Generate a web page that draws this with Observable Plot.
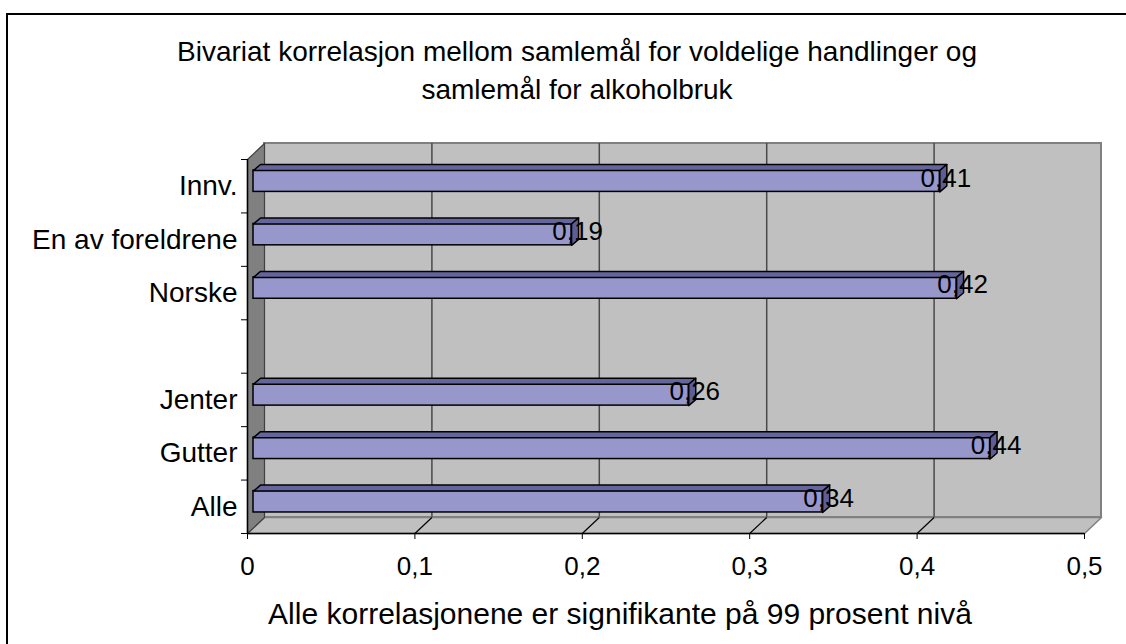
<!DOCTYPE html>
<html><head><meta charset="utf-8">
<script src="https://cdn.jsdelivr.net/npm/d3@7"></script>
<script src="https://cdn.jsdelivr.net/npm/@observablehq/plot@0.6"></script>
<style>
html,body{margin:0;padding:0;background:#fff;}
#wrap{position:relative;width:1126px;height:644px;overflow:hidden;font-family:"Liberation Sans",Arial,sans-serif;color:#000;}
#frame{position:absolute;left:6px;top:13px;width:1200px;height:700px;border-top:2px solid #000;border-left:2px solid #000;}
#title{position:absolute;left:0;width:1154px;top:33px;text-align:center;font-size:28px;line-height:38px;}
#caption{position:absolute;left:0;width:1240px;top:595px;text-align:center;font-size:30px;line-height:38px;}
#chart{position:absolute;left:0;top:0;}
</style></head><body>
<div id="wrap"><div id="frame"></div><div id="chart"></div>
<div id="title">Bivariat korrelasjon mellom samlemål for voldelige handlinger og<br>samlemål for alkoholbruk</div>
<div id="caption">Alle korrelasjonene er signifikante på 99 prosent nivå</div></div>
<script>
// ---- data ----
const categories = ["Alle", "Gutter", "Jenter", "", "Norske", "En av foreldrene", "Innv."];
const values = [0.34, 0.44, 0.26, null, 0.42, 0.19, 0.41];
const xTicks = [0, 0.1, 0.2, 0.3, 0.4, 0.5];

// ---- layout ----
const W = 1126, H = 644, mL = 247, mR = 42, mT = 159, mB = 111;
const xDomain = [xTicks[0], xTicks[xTicks.length - 1]];
const yDomain = [-0.5, categories.length - 0.5];
const ux = (xDomain[1] - xDomain[0]) / (W - mL - mR); // data units per px
const uy = (yDomain[1] - yDomain[0]) / (H - mT - mB);
const wall = {dx: 17, dy: 16};
const barFront = {dx: 6, dy: 5};
const barDepth = {dx: 7, dy: 6};
const half = 0.2;
const fmt = v => String(v).replace(".", ",");

const bars = values.map((v, i) => ({i, v, cat: categories[i]})).filter(d => d.v != null);

function poly(pts, k) { return pts.concat([pts[0]]).map(([x, y]) => ({x, y, k})); }
const topFaces = bars.flatMap(d => {
  const t = d.i + half;
  return poly([[0, t], [d.v, t], [d.v + barDepth.dx * ux, t + barDepth.dy * uy], [barDepth.dx * ux, t + barDepth.dy * uy]], d.i);
});
const sideFaces = bars.flatMap(d => {
  const t = d.i + half, b = d.i - half;
  return poly([[d.v, b], [d.v, t], [d.v + barDepth.dx * ux, t + barDepth.dy * uy], [d.v + barDepth.dx * ux, b + barDepth.dy * uy]], d.i);
});
const sideWall = poly([[xDomain[0], yDomain[0]], [xDomain[0], yDomain[1]],
  [xDomain[0] + wall.dx * ux, yDomain[1] + wall.dy * uy], [xDomain[0] + wall.dx * ux, yDomain[0] + wall.dy * uy]], 0);
const floor = poly([[xDomain[0], yDomain[0]], [xDomain[1], yDomain[0]],
  [xDomain[1] + wall.dx * ux, yDomain[0] + wall.dy * uy], [xDomain[0] + wall.dx * ux, yDomain[0] + wall.dy * uy]], 0);

const yBounds = d3.range(categories.length + 1).map(i => i - 0.5);
const yIdx = d3.range(categories.length);

const chart = Plot.plot({
  width: W, height: H,
  marginLeft: mL, marginRight: mR, marginTop: mT, marginBottom: mB,
  x: {domain: xDomain},
  y: {domain: yDomain},
  style: {fontFamily: '"Liberation Sans", Arial, sans-serif', fontSize: "26px", background: "transparent", color: "#000", overflow: "visible"},
  marks: [
    // back wall
    Plot.rect([0], {x1: xDomain[0], x2: xDomain[1], y1: yDomain[0], y2: yDomain[1], dx: wall.dx, dy: -wall.dy, fill: "#c0c0c0", stroke: "#808080", strokeWidth: 2}),
    Plot.ruleX(xTicks.slice(1, -1), {y1: yDomain[0], y2: yDomain[1], dx: wall.dx, dy: -wall.dy, stroke: "#4a4a4a", strokeWidth: 1.5}),
    // floor
    Plot.line(floor, {x: "x", y: "y", z: "k", fill: "#c0c0c0", stroke: "#808080", strokeWidth: 1.5}),
    Plot.link(xTicks.slice(1, -1), {x1: d => d, y1: yDomain[0], x2: d => d + wall.dx * ux, y2: yDomain[0] + wall.dy * uy, stroke: "#000", strokeWidth: 1.2}),
    // side wall
    Plot.line(sideWall, {x: "x", y: "y", z: "k", fill: "#808080", stroke: "#404040", strokeWidth: 1.2}),
    // axis lines
    Plot.ruleY([yDomain[0]], {x1: xDomain[0], x2: xDomain[1], stroke: "#000", strokeWidth: 1.5}),
    Plot.ruleX([xDomain[0]], {y1: yDomain[0], y2: yDomain[1], stroke: "#000", strokeWidth: 1.5}),
    Plot.axisX(xTicks, {tickSize: 6, tickPadding: 17, tickFormat: fmt, fontSize: 26, label: null}),
    Plot.axisY(yBounds, {tickSize: 6, tickFormat: () => "", label: null}),
    Plot.axisY(yIdx, {tickSize: 0, tickPadding: 10, tickFormat: i => categories[i], fontSize: 28, label: null}),
    // bars
    Plot.rect(bars, {x1: 0, x2: "v", y1: d => d.i - half, y2: d => d.i + half, dx: barFront.dx, dy: -barFront.dy, fill: "#9797cb", stroke: "#000", strokeWidth: 1.5}),
    Plot.line(topFaces, {x: "x", y: "y", z: "k", dx: barFront.dx, dy: -barFront.dy, fill: "#65659e", stroke: "#000", strokeWidth: 1.5}),
    Plot.line(sideFaces, {x: "x", y: "y", z: "k", dx: barFront.dx, dy: -barFront.dy, fill: "#5d5d98", stroke: "#000", strokeWidth: 1.5}),
    // value labels
    Plot.text(bars, {x: "v", y: "i", text: d => fmt(d.v), dx: 12, dy: -8, fontSize: 26, fill: "#000"})
  ]
});
document.getElementById("chart").appendChild(chart);
</script>
</body></html>
